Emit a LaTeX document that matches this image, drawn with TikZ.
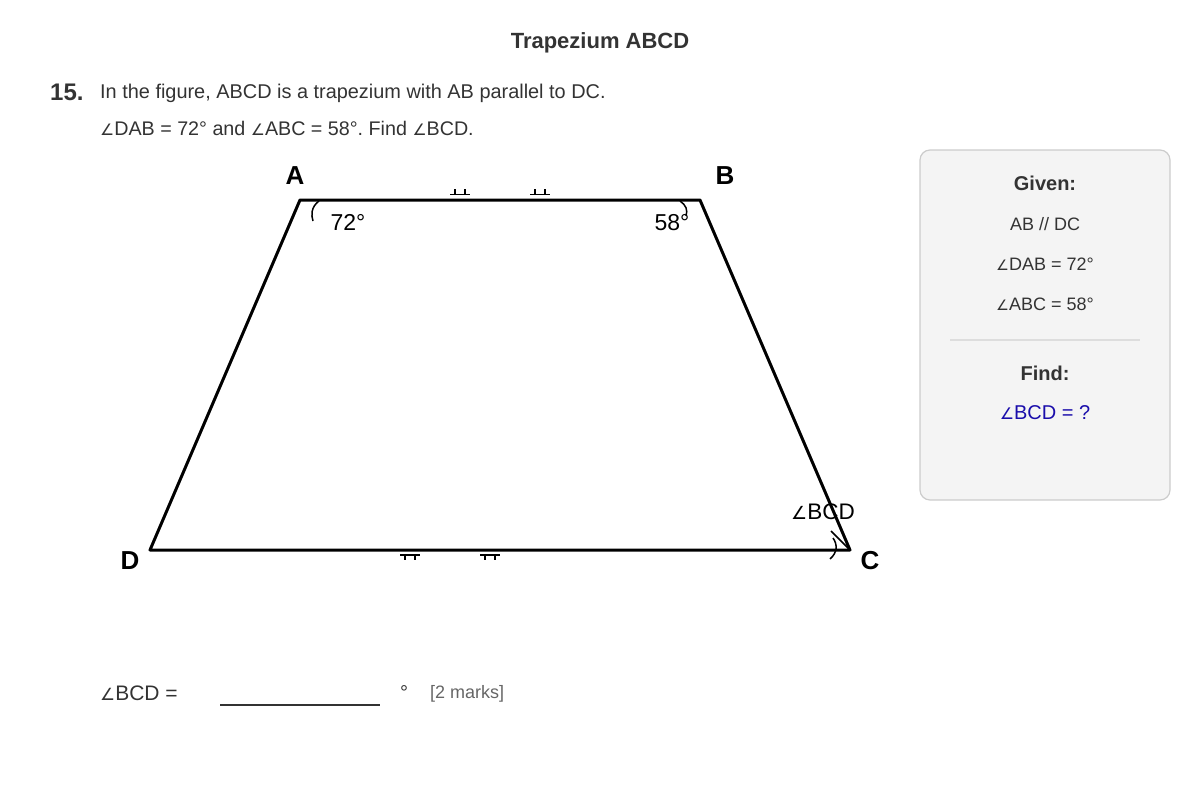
\documentclass[tikz,border=0pt]{standalone}
\usepackage{fontspec}
\setmainfont{Liberation Sans}
\newfontfamily\djv{DejaVu Sans}
\newcommand{\angsym}{{\djv\fontsize{0.8em}{1em}\selectfont ∠}}
\frenchspacing
\definecolor{txt}{HTML}{333333}
\definecolor{gray6}{HTML}{666666}
\definecolor{panelbg}{HTML}{F4F4F4}
\definecolor{panelbd}{HTML}{CCCCCC}
\definecolor{sepc}{HTML}{DDDDDD}
\definecolor{findblue}{HTML}{1A0DAB}
\newcommand{\fs}[1]{\fontsize{#1}{#1}\selectfont}
\begin{document}
\begin{tikzpicture}[x=1pt,y=-1pt,
  lbl/.style={font=\fs{26}\bfseries, text=black, inner sep=0pt},
  txtnode/.style={text=txt, inner sep=0pt},
  edge/.style={line width=3pt, line join=round},
  tick/.style={line width=1.6pt},
  anglemark/.style={line width=1.5pt}]
\useasboundingbox (0,0) rectangle (1200,800);
% title and question
\node[txtnode, font=\fs{22}\bfseries] (title) at (600,43) {Trapezium ABCD};
\node[txtnode, font=\fs{24}\bfseries, anchor=west] (qnum) at (50,92) {15.};
\node[txtnode, font=\fs{19.9}, anchor=west] (q1) at (100,93) {In the figure, ABCD is a trapezium with AB parallel to DC.};
\node[txtnode, font=\fs{19.7}, anchor=west] (q2) at (100,128) {\angsym DAB = 72° and \angsym ABC = 58°. Find \angsym BCD.};
% vertices
\coordinate (A) at (300,200);
\coordinate (B) at (700,200);
\coordinate (C) at (850,550);
\coordinate (D) at (150,550);
\draw[edge] (A) -- (B) -- (C) -- (D) -- cycle;
\node[lbl] (lA) at (295,176) {A};
\node[lbl] (lB) at (725,176) {B};
\node[lbl] (lC) at (870,561) {C};
\node[lbl] (lD) at (130,561) {D};
% parallel ticks
\draw[tick] (450,194.5) -- (470,194.5) (455,194.5) -- (455,189) (465,194.5) -- (465,189);
\draw[tick] (530,194.5) -- (550,194.5) (535,194.5) -- (535,189) (545,194.5) -- (545,189);
\draw[tick] (400,555) -- (420,555) (405,555) -- (405,560) (415,555) -- (415,560);
\draw[tick] (480,555) -- (500,555) (485,555) -- (485,560) (495,555) -- (495,560);
% angle marks
\draw[anglemark] (319,201) .. controls (311,207) and (311,215) .. (313,221);
\draw[anglemark] (680,201) .. controls (686,205) and (688,210) .. (686,216);
\draw[anglemark] (831,531) -- (849,549);
\draw[anglemark] (833,538) .. controls (838,545) and (837,553) .. (830,559);
\node[txtnode, text=black, font=\fs{23}] (a72) at (348,222) {72°};
\node[txtnode, text=black, font=\fs{23}] (a58) at (672,223) {58°};
\node[txtnode, text=black, font=\fs{22.5}] (bcd) at (823,512) {\angsym BCD};
% answer line
\node[txtnode, font=\fs{21}, anchor=west] (ans) at (100,693) {\angsym BCD =};
\coordinate (l1) at (220,705);
\coordinate (l2) at (380,705);
\draw[line width=1.5pt, txt] (l1) -- (l2);
\node[txtnode, font=\fs{20}] (deg) at (404,693) {°};
\node[txtnode, text=gray6, font=\fs{18}, anchor=west] (marks) at (430,694) {[2 marks]};
% panel
\draw[panelbd, fill=panelbg, line width=1.2pt, rounded corners=10pt] (920,150) rectangle (1170,500);
\node[txtnode, font=\fs{20}\bfseries] (given) at (1045,183) {Given:};
\node[txtnode, font=\fs{18}] (g1) at (1045,224) {AB // DC};
\node[txtnode, font=\fs{18}] (g2) at (1045,264) {\angsym DAB = 72°};
\node[txtnode, font=\fs{18}] (g3) at (1045,304) {\angsym ABC = 58°};
\draw[sepc, line width=1.2pt] (950,340) -- (1140,340);
\node[txtnode, font=\fs{20}\bfseries] (find) at (1045,373) {Find:};
\node[txtnode, text=findblue, font=\fs{20}] (f1) at (1045,413) {\angsym BCD = ?};
\end{tikzpicture}
\end{document}
